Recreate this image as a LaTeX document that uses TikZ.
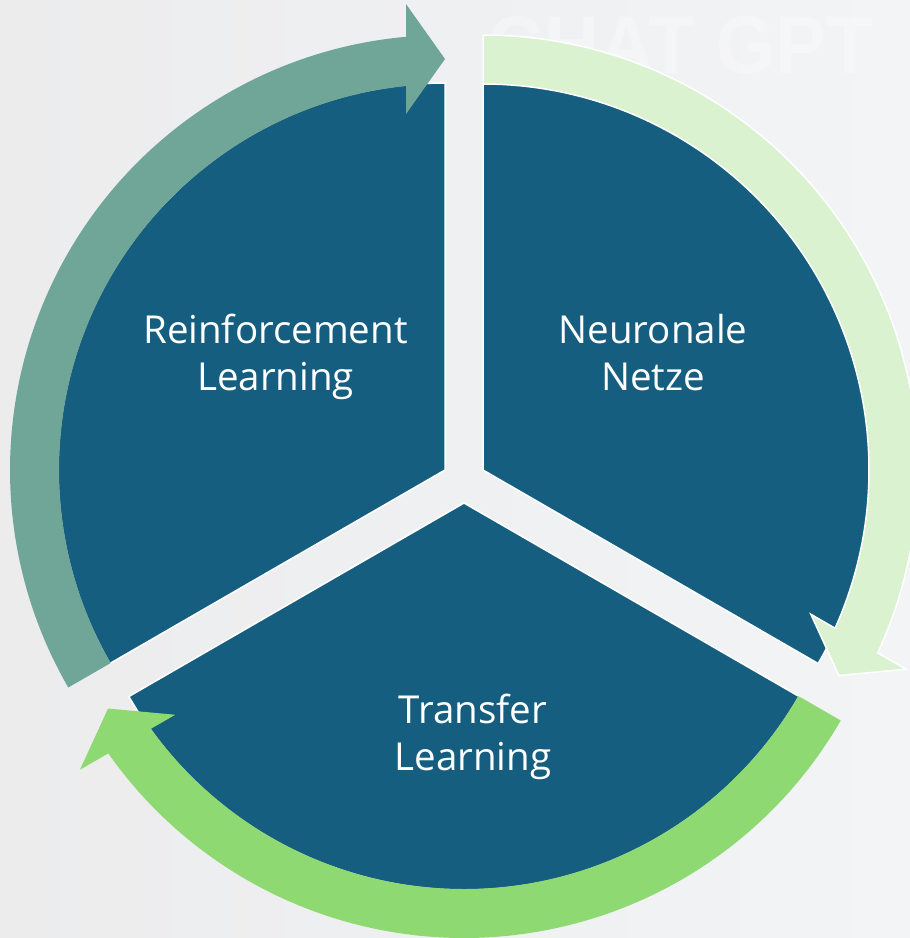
\documentclass[tikz,border=0pt]{standalone}
\usepackage{fontspec}
\setmainfont{Open Sans}
\newfontfamily\wmfont{Liberation Sans}
\usetikzlibrary{calc}
\definecolor{segblue}{HTML}{165E7F}
\definecolor{arrteal}{HTML}{70A698}
\definecolor{arrlight}{HTML}{DAF2D0}
\definecolor{arrgreen}{HTML}{8FD973}
\definecolor{bgleft}{HTML}{ECECED}
\definecolor{bgright}{HTML}{F2F4F6}
% #1 centre, #2 tail angle, #3 tip angle, #4 style
\newcommand\cyclearrow[4]{%
  \pgfmathsetmacro\myArrIn{#3+5.8}%
  \pgfmathsetmacro\myArrOut{#3+5.14}%
  \pgfmathsetmacro\myArrBack{#3+90}%
  \pgfmathsetmacro\myArrOpp{#3+180}%
  \path[#4] ($(#1)+(#2:386pt)$) arc[start angle=#2, end angle=\myArrIn, radius=386pt]
    -- ($(#1)+(#3:411pt)+(\myArrBack:39pt)+(\myArrOpp:55pt)$)
    -- ($(#1)+(#3:411pt)$)
    -- ($(#1)+(#3:411pt)+(\myArrBack:39pt)+(#3:55pt)$)
    -- ($(#1)+(\myArrOut:435pt)$) arc[start angle=\myArrOut, end angle=#2, radius=435pt]
    -- cycle;}
\begin{document}
\begin{tikzpicture}[x=1pt,y=1pt,
  seg/.style={fill=segblue, draw=white, line width=1.5pt},
  lbl/.style={text=white, font=\fontsize{38.5}{47}\selectfont, align=center, inner sep=0pt}]
\useasboundingbox (0,0) rectangle (910,-938);
\shade[left color=bgleft, right color=bgright] (0,0) rectangle (910,-938);
\node[font=\wmfont\bfseries\fontsize{82}{82}\selectfont, text=white, text opacity=0.3, xscale=0.93, anchor=base] (wm) at (681,-73) {CHAT GPT};
\coordinate (A) at (445,-470);
\coordinate (B) at (483,-470);
\coordinate (C) at (464,-503);
% segments
\path[seg] (A) -- ($(A)+(90:387pt)$) arc[start angle=90, end angle=210, radius=387pt] -- cycle;
\path[seg] (B) -- ($(B)+(-30:387pt)$) arc[start angle=-30, end angle=90, radius=387pt] -- cycle;
\path[seg] (C) -- ($(C)+(210:387pt)$) arc[start angle=210, end angle=330, radius=387pt] -- cycle;
% arrows
\cyclearrow{A}{210}{90}{fill=arrteal}
\cyclearrow{B}{90}{-30}{fill=arrlight, draw=white, line width=1.5pt}
\cyclearrow{C}{-30}{-150}{fill=arrgreen}
% labels
\node[lbl] (rl) at (275.5,-357) {Reinforcement\\Learning};
\node[lbl] (nn) at (653,-352.5) {Neuronale\\Netze};
\node[lbl] (tl) at (473,-737) {Transfer\\Learning};
\end{tikzpicture}
\end{document}
